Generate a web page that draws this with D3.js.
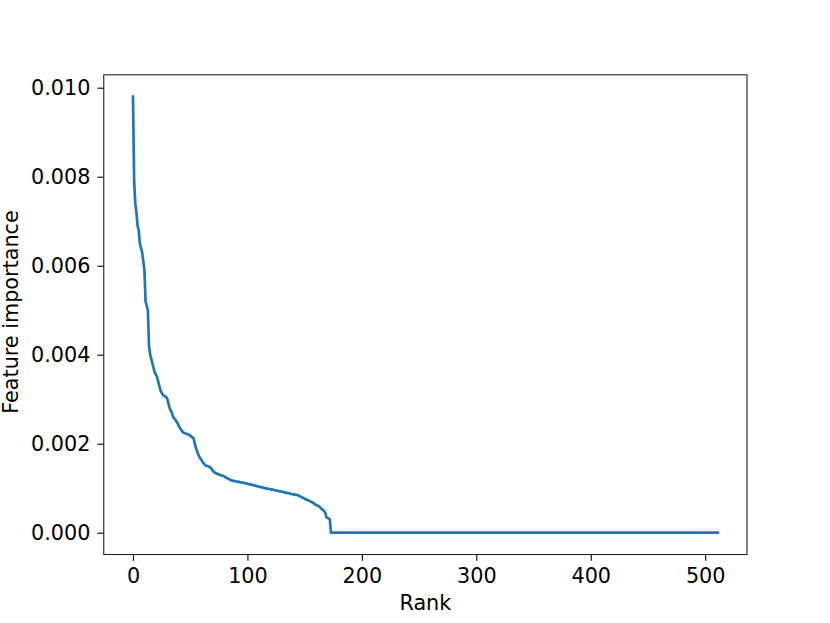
<!DOCTYPE html>
<html>
<head>
<meta charset="utf-8">
<script src="https://cdn.jsdelivr.net/npm/d3@7"></script>
<style>
  body { margin: 0; background: #fff; }
  text { font-family: "DejaVu Sans", sans-serif; }
</style>
</head>
<body>
<script>
const width = 830;
const height = 623;

// importance of ranked features (ranks 0..172 nonzero)
const nonzeroImportance = [
  0.0098, 0.0079, 0.0074, 0.0072, 0.0069, 0.0068, 0.0065, 0.0064, 0.0063, 0.0061,
  0.0059, 0.0052, 0.0051, 0.0050, 0.0042, 0.0040, 0.0039, 0.0038, 0.0037, 0.0036,
  0.00355, 0.0035, 0.0034, 0.0033, 0.0032, 0.00315, 0.0031, 0.00308, 0.00306, 0.00305,
  0.0030, 0.0029, 0.0028, 0.00275, 0.0027, 0.0026, 0.00257, 0.00254, 0.0025, 0.00246,
  0.0024, 0.00236, 0.00232, 0.00228, 0.00225, 0.00224, 0.00223, 0.00222, 0.00221, 0.0022,
  0.00218, 0.00216, 0.00214, 0.00212, 0.0020, 0.0019, 0.00184, 0.00176, 0.0017, 0.00166,
  0.00163, 0.00158, 0.00155, 0.00152, 0.0015, 0.0015, 0.00149, 0.00147, 0.00146, 0.00142,
  0.00138, 0.00136, 0.00134, 0.00133, 0.00132, 0.00131, 0.0013, 0.00129, 0.00128, 0.00128,
  0.00126, 0.00124, 0.00123, 0.00122, 0.0012, 0.00119, 0.00118, 0.00117, 0.00116, 0.00116,
  0.00115, 0.00115, 0.00114, 0.00114, 0.00113, 0.00113, 0.00112, 0.00112, 0.00111, 0.00111,
  0.0011, 0.00109, 0.00109, 0.00108, 0.00108, 0.00107, 0.00106, 0.00106, 0.00105, 0.00104,
  0.00103, 0.00103, 0.00102, 0.00102, 0.00101, 0.0010, 0.0010, 0.00099, 0.00099, 0.00098,
  0.00098, 0.00097, 0.00097, 0.00096, 0.00096, 0.00095, 0.00094, 0.00094, 0.00093, 0.00093,
  0.00092, 0.00092, 0.00091, 0.0009, 0.0009, 0.00089, 0.00089, 0.00088, 0.00087, 0.00087,
  0.00086, 0.00086, 0.00085, 0.00085, 0.00084, 0.00083, 0.00082, 0.0008, 0.00079, 0.00078,
  0.00076, 0.00075, 0.00074, 0.00073, 0.00072, 0.0007, 0.00069, 0.00068, 0.00066, 0.00064,
  0.00062, 0.00061, 0.0006, 0.00058, 0.00056, 0.00053, 0.00051, 0.00049, 0.00045, 0.00035,
  0.00033, 0.00032, 0.0003
];
// the remaining features (ranks 173..511) all sit at zero
const zeroFeatureCount = 339;
const importance = nonzeroImportance.concat(new Array(zeroFeatureCount).fill(0));

const xTicks = [0, 100, 200, 300, 400, 500];
const yTicks = [0, 0.002, 0.004, 0.006, 0.008, 0.010];

// matplotlib-like axes box
const box = { left: 103.75, right: 747, top: 74.8, bottom: 554.5 };
const fontSize = '20.75px';

const n = importance.length;
const xPad = 0.05 * (n - 1);
const yMax = d3.max(importance);

const x = d3.scaleLinear()
  .domain([-xPad, n - 1 + xPad])
  .range([box.left, box.right]);

const y = d3.scaleLinear()
  .domain([-0.05 * yMax, 1.05 * yMax])
  .range([box.bottom, box.top]);

const svg = d3.select('body')
  .append('svg')
  .attr('width', width)
  .attr('height', height);

const line = d3.line()
  .x((d, i) => x(i))
  .y(d => y(d));

svg.append('path')
  .datum(importance)
  .attr('d', line)
  .attr('fill', 'none')
  .attr('stroke', '#1f77b4')
  .attr('stroke-width', 2.7)
  .attr('stroke-linejoin', 'round')
  .attr('stroke-linecap', 'square');

const xAxis = svg.append('g')
  .attr('transform', `translate(0,${box.bottom})`)
  .call(d3.axisBottom(x).tickValues(xTicks).tickSize(6.3).tickPadding(7).tickSizeOuter(0));

const yAxis = svg.append('g')
  .attr('transform', `translate(${box.left},0)`)
  .call(d3.axisLeft(y).tickValues(yTicks).tickFormat(d3.format('.3f')).tickSize(6.3).tickPadding(7).tickSizeOuter(0));

[xAxis, yAxis].forEach(g => {
  g.select('.domain').remove();
  g.selectAll('line').attr('stroke', '#000').attr('stroke-width', 1.1);
  g.selectAll('text')
    .attr('fill', '#000')
    .style('font-size', fontSize)
    .style('font-family', '"DejaVu Sans", sans-serif');
});

// frame
svg.append('rect')
  .attr('x', box.left)
  .attr('y', box.top)
  .attr('width', box.right - box.left)
  .attr('height', box.bottom - box.top)
  .attr('fill', 'none')
  .attr('stroke', '#222')
  .attr('stroke-width', 1.1);

svg.append('text')
  .attr('x', (box.left + box.right) / 2)
  .attr('y', 610)
  .attr('text-anchor', 'middle')
  .style('font-size', fontSize)
  .text('Rank');

svg.append('text')
  .attr('transform', `translate(17.5,312) rotate(-90)`)
  .attr('text-anchor', 'middle')
  .style('font-size', fontSize)
  .text('Feature importance');
</script>
</body>
</html>
